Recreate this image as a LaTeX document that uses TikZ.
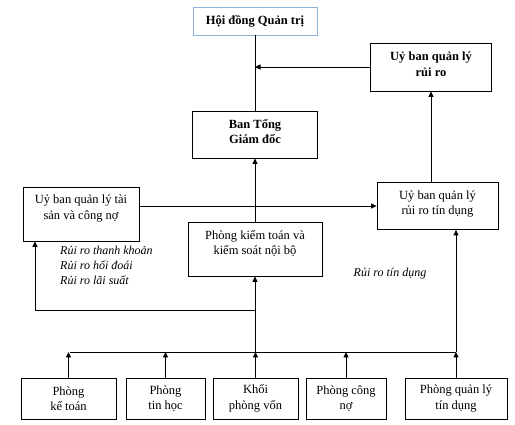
\documentclass[tikz,border=0pt]{standalone}
\usepackage{fontspec}
\setmainfont{Liberation Serif}
\usepackage{xcolor}
\usepackage{tikz}
\usetikzlibrary{positioning, arrows.meta, calc}
\definecolor{HDBlue}{RGB}{140,180,220}

\begin{document}
\begin{tikzpicture}[x=1pt, y=-1pt,
            box/.style={rectangle, draw=black, line width=0.8pt,
                        minimum height=47pt, inner sep=2pt,
                        font=\fontsize{12.5}{15.5}\selectfont, align=center},
            risk/.style={font=\fontsize{12}{15}\selectfont\itshape, align=left, inner sep=0pt},
            arr/.style={-{Triangle[length=5.5pt,width=5pt]}, line width=0.8pt},
            ln/.style={line width=0.8pt}
          ]
          \useasboundingbox (0,0) rectangle (515,425);
          % top level
          \node[box, draw=HDBlue, minimum width=124pt, minimum height=28pt] (hdqt) at (255,21)
                {\textbf{Hội đồng Quản trị}};
          \node[box, minimum width=121pt, minimum height=48pt] (uyrr) at (431,67)
                {\textbf{Uỷ ban quản lý}\\\textbf{rủi ro}\\[-10pt]\mbox{}};
          \node[box, minimum width=125pt] (btgd) at (255,134.5)
                {\textbf{Ban Tổng}\\\textbf{Giám đốc}\\[-9pt]\mbox{}};
          % middle level
          \node[box, minimum width=116pt, minimum height=54pt] (uyts) at (81,214)
                {Uỷ ban quản lý tài\\sản và công nợ\\[-2pt]\mbox{}};
          \node[box, minimum width=121pt] (uytd) at (437.5,206)
                {Uỷ ban quản lý\\rủi ro tín dụng\\[-9pt]\mbox{}};
          \node[box, minimum width=134pt, minimum height=54pt] (pkt) at (255,249)
                {Phòng kiểm toán và\\kiểm soát nội bộ\\[-2pt]\mbox{}};
          \node[risk, anchor=north west] (rrts) at (60,246)
                {Rủi ro thanh khoản\\Rủi ro hối đoái\\Rủi ro lãi suất};
          \node[risk] (rrtd) at (390,274) {Rủi ro tín dụng};
          % bottom row
          \node[box, minimum width=95pt, minimum height=41pt] (pkto) at (68.5,398.5) {Phòng\\kế toán};
          \node[box, minimum width=79pt, minimum height=41pt] (pth) at (165.5,398.5) {Phòng\\tin học};
          \node[box, minimum width=85pt, minimum height=41pt] (kpv) at (255.5,398.5) {Khối\\phòng vốn};
          \node[box, minimum width=80pt, minimum height=41pt] (pcn) at (346,398.5) {Phòng công\\nợ};
          \node[box, minimum width=102pt, minimum height=41pt] (pql) at (456,398.5) {Phòng quản lý\\tín dụng};
          \coordinate (bus) at (70,352);
          \coordinate (lv) at (35,310);

          \draw[ln] (hdqt.south) -- (btgd.north);
          \draw[arr] (uyrr.west) -- (uyrr.west -| hdqt.south);
          \draw[arr] (uyrr.south |- uytd.north) -- (uyrr.south);
          \draw[arr] (pkt.north) -- (btgd.south);
          \draw[arr] (uytd.west -| uyts.east) -- (uytd.west);

          \draw[ln] (bus) -- (bus -| pql.north);
          \foreach \b in {pkto, pth, kpv, pcn, pql}
            \draw[arr] (\b.north) -- (\b.north |- bus);
          \draw[arr] (pkt.south |- bus) -- (pkt.south);
          \draw[arr] (lv -| pkt.south) -- (lv) -- (lv |- uyts.south);
          \draw[arr] (pql.north |- bus) -- (pql.north |- uytd.south);
        \end{tikzpicture}
\end{document}
